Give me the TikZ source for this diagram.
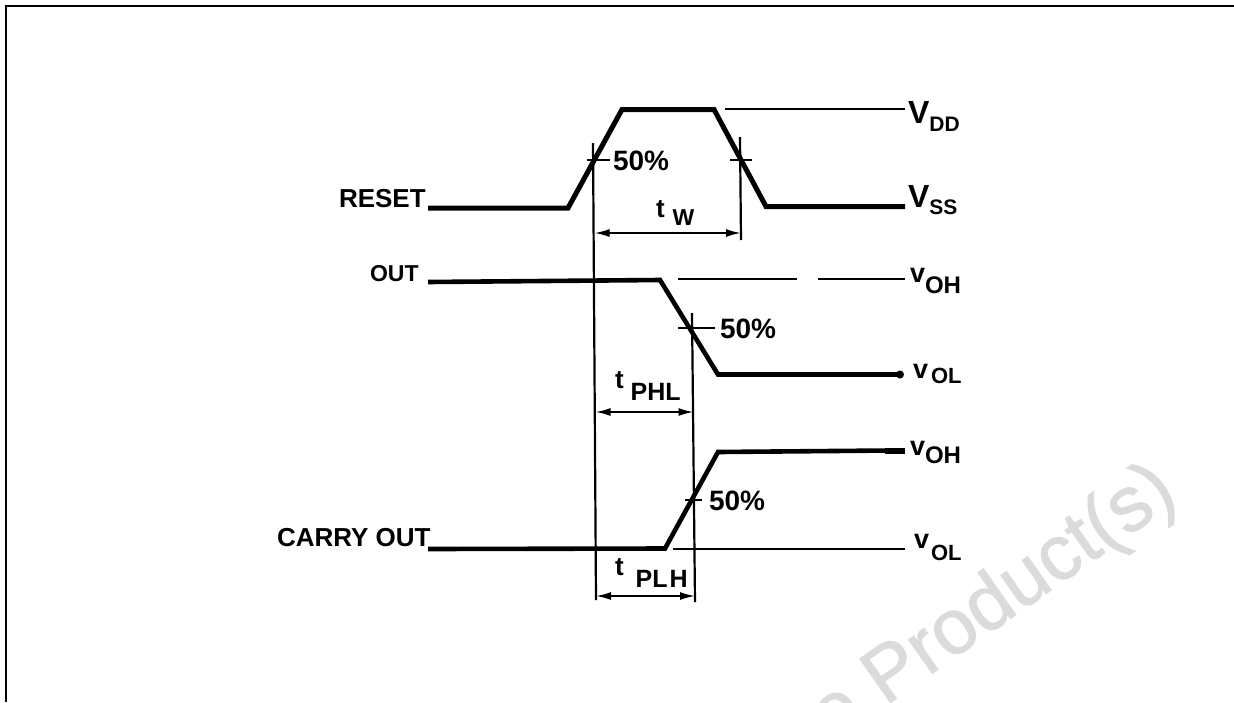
\documentclass[tikz,border=0pt]{standalone}
\usepackage{fontspec}
\usetikzlibrary{arrows.meta}
\setmainfont{Liberation Sans}
\newfontfamily\labfont{Liberation Sans Bold}
\newfontfamily\markfont[FakeBold=1.2]{Liberation Sans}
\newcommand{\fs}[1]{\fontsize{#1}{#1}\selectfont}
% main letter, drop, subscript size, gap, subscript
\newcommand{\subl}[5]{\fs{27}#1\hspace{#4pt}\raisebox{-#2pt}{\fs{#3}#5}}
\tikzset{
  x=1pt,y=-1pt,
  lab/.style={inner sep=0pt,outer sep=0pt,anchor=base west,font=\labfont\fs{26},text=black},
  wave/.style={line width=5pt,line join=miter,black},
  thin/.style={line width=2pt,black},
  guide/.style={line width=2.2pt,black},
  tick/.style={line width=1.8pt,black},
  dimline/.style={line width=1.8pt,black,{Latex[length=15pt,width=8pt]}-{Latex[length=15pt,width=8pt]}},
  frame/.style={line width=2pt,black},
  wm/.style={inner sep=0pt,outer sep=0pt,anchor=base east,rotate=35,font=\markfont\fs{78},text=black!14}
}
\begin{document}
\begin{tikzpicture}
\useasboundingbox (0,0) rectangle (1234,702);
\begin{scope}
\clip (0,0) rectangle (1234,702);
\node[wm] (mark) at (1180,500) {e Product(s)};
\end{scope}
% frame
\draw[frame] (6,702) -- (6,6) -- (1234,6);
% named reference points
\coordinate (a1) at (593,143);
\coordinate (a2) at (596,600);
\coordinate (b1) at (740,137);
\coordinate (b2) at (741,240);
\coordinate (c1) at (692,313);
\coordinate (c2) at (695,602);
% waveforms
\draw[wave] (428,208) -- (568,208) -- (622,109.5) -- (714,109.5) -- (766,206.5) -- (905,206.5);
\draw[wave,line width=4.6pt] (428,282) -- (660,280) -- (718,374.5) -- (900,374.5);
\fill (900,374.5) circle (4pt);
\draw[wave,line width=4.6pt] (428,549) -- (665,548.5) -- (718,452) -- (890,450.5);
\draw[line width=6pt] (885,450.5) -- (905,450.5);
% thin level lines
\draw[thin] (725,109) -- (905,109);
\draw[thin] (678,279) -- (797,279);
\draw[thin] (818,279) -- (905,279);
\draw[thin] (673,549) -- (905,549);
% guide lines
\draw[guide] (a1) -- (a2);
\draw[guide] (b1) -- (b2);
\draw[guide] (c1) -- (c2);
% ticks
\draw[tick] (587,160) -- (610,160);
\draw[tick] (730,160) -- (752,160);
\draw[tick] (678,328) -- (715,328);
\draw[tick] (685,500) -- (702,500);
% dimension lines
\draw[dimline] (594.5,233) -- (741,233);
\draw[dimline] (595.5,412) -- (693.5,412);
\draw[dimline] (596,596) -- (695,596);
% labels
\node[lab] (reset) at (339,207) {RESET};
\node[lab,font=\labfont\fs{23}] (out) at (370,281) {OUT};
\node[lab] (carry) at (277,546) {CARRY OUT};
\node[lab,font=\labfont\fs{28}] (p1) at (613,170) {50\%};
\node[lab,font=\labfont\fs{28}] (p2) at (720,338) {50\%};
\node[lab,font=\labfont\fs{28}] (p3) at (709,510) {50\%};
% right-hand levels
\node[lab] (vdd) at (908,123) {\fs{32}V\raisebox{-8pt}{\fs{21}DD}};
\node[lab] (vss) at (908,207) {\fs{32}V\raisebox{-7pt}{\fs{21}SS}};
\node[lab] (voh1) at (910,282) {\subl{v}{11}{24}{0}{OH}};
\node[lab] (vol1) at (913,378) {\subl{v}{5}{22}{3}{OL}};
\node[lab] (voh2) at (910,455) {\subl{v}{8}{24}{0}{OH}};
\node[lab] (vol2) at (914,548) {\subl{v}{12}{22}{2}{OL}};
% timing labels
\node[lab] (tw) at (656,217) {\fs{26}t\hspace{8pt}\raisebox{-8pt}{\fs{23}W}};
\node[lab] (tphl) at (615,388) {\fs{26}t\hspace{7pt}\raisebox{-12pt}{\fs{25}PHL}};
\node[lab] (tplh) at (615,575) {\fs{26}t\hspace{12pt}\raisebox{-12pt}{\fs{25}PL\hspace{2pt}H}};
\end{tikzpicture}
\end{document}
